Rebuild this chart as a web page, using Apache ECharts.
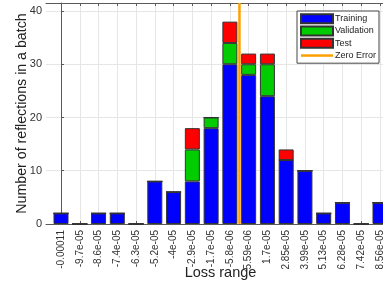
<!DOCTYPE html>
<html>
<head>
<meta charset="utf-8">
<script src="https://cdn.jsdelivr.net/npm/echarts@6/dist/echarts.min.js"></script>
<style>html,body{margin:0;padding:0;background:#fff;}#c{width:383px;height:286px;}</style>
</head>
<body>
<div id="c"></div>
<script>
const categories = ['-0.00011','-9.7e-05','-8.6e-05','-7.4e-05','-6.3e-05','-5.2e-05','-4e-05','-2.9e-05','-1.7e-05','-5.8e-06','5.59e-06','1.7e-05','2.85e-05','3.99e-05','5.13e-05','6.28e-05','7.42e-05','8.56e-05'];
const training   = [2,0,2,2,0,8,6,8,18,30,28,24,12,10,2,4,0,4];
const validation = [0,0,0,0,0,0,0,6,2,4,2,6,0,0,0,0,0,0];
const test       = [0,0,0,0,0,0,0,4,0,4,2,2,2,0,0,0,0,0];
const zeroErrorPos = 9.51; // zero lies between -5.8e-06 and 5.59e-06
const yTicks = [0,10,20,30,40];

const idx = categories.map((c,i)=>i);
const font = 'Liberation Sans, Arial, Helvetica, sans-serif';
const axisCol = '#5a5a5a';

// frame grid (value axes) spans -0.8 .. 17.8 category units
const FL = 46, FW = 349, FT = 3, FH = 221;
const step = FW / 18.6;
const YMAX = 41.5;

const chart = echarts.init(document.getElementById('c'), null, {renderer:'canvas'});
const barStyle = (color) => ({color: color, borderColor: '#333', borderWidth: 1});
chart.setOption({
  animation: false,
  textStyle: {fontFamily: font},
  grid: [
    {left: FL, top: FT, width: FW, height: FH, containLabel: false, outerBoundsMode: 'none'},
    {left: FL + 0.3 * step, top: FT, width: 18 * step, height: FH, containLabel: false, outerBoundsMode: 'none'}
  ],
  legend: {
    orient: 'vertical', left: 297, top: 11,
    padding: [1.5, 3, 1.5, 3], itemGap: 0,
    itemWidth: 32, itemHeight: 9,
    borderColor: '#444', borderWidth: 1, backgroundColor: '#fff',
    textStyle: {fontSize: 9, lineHeight: 12.3, color: '#222', fontFamily: font, padding: [0,0,0,-3]},
    data: [
      {name: 'Training', icon: 'rect'},
      {name: 'Validation', icon: 'rect'},
      {name: 'Test', icon: 'rect'},
      {name: 'Zero Error', icon: 'path://M0,0 M0,9 M0,3.25 L32,3.25 L32,5.75 L0,5.75 Z',
       itemStyle: {color: '#ffa000', borderWidth: 0}}
    ]
  },
  xAxis: [{
    gridIndex: 0, type: 'value', min: -0.8, max: 17.8, position: 'bottom',
    axisLine: {show: true, onZero: false, lineStyle: {color: axisCol, width: 1}},
    axisTick: {show: true, inside: true, length: 3, customValues: idx, lineStyle: {color: axisCol}},
    axisLabel: {show: true, rotate: 90, fontSize: 10, margin: 6, color: '#333', customValues: idx,
      formatter: v => categories[Math.round(v)]},
    splitLine: {show: true, lineStyle: {color: '#e6e6e6', width: 1}},
    name: 'Loss range', nameLocation: 'middle', nameGap: 41, nameMoveOverlap: false,
    nameTextStyle: {fontSize: 14.5, color: '#222'}
  }, {
    gridIndex: 0, type: 'value', min: -0.8, max: 17.8, position: 'top',
    axisLine: {show: true, onZero: false, lineStyle: {color: axisCol, width: 1}},
    axisTick: {show: true, inside: true, length: 3, customValues: idx, lineStyle: {color: axisCol}},
    axisLabel: {show: false},
    splitLine: {show: false}
  }, {
    gridIndex: 1, type: 'category', data: categories, boundaryGap: true,
    show: false
  }],
  yAxis: [{
    gridIndex: 0, type: 'value', min: 0, max: YMAX,
    axisLine: {show: true, lineStyle: {color: axisCol, width: 1}},
    axisTick: {show: true, inside: true, length: 3, customValues: yTicks, lineStyle: {color: axisCol}},
    axisLabel: {fontSize: 11, margin: 4, color: '#333', customValues: yTicks},
    splitLine: {show: true, lineStyle: {color: '#e6e6e6', width: 1}},
    name: 'Number of reflections in a batch', nameLocation: 'middle', nameGap: 17, nameMoveOverlap: false,
    nameTextStyle: {fontSize: 14.2, color: '#222'}
  }, {
    gridIndex: 1, type: 'value', min: 0, max: YMAX, show: false
  }],
  series: [
    {name: 'Training', type: 'bar', stack: 's', xAxisIndex: 2, yAxisIndex: 1, barWidth: 15, data: training, itemStyle: barStyle('#0000ff')},
    {name: 'Validation', type: 'bar', stack: 's', xAxisIndex: 2, yAxisIndex: 1, barWidth: 15, data: validation, itemStyle: barStyle('#00cc00')},
    {name: 'Test', type: 'bar', stack: 's', xAxisIndex: 2, yAxisIndex: 1, barWidth: 15, data: test, itemStyle: barStyle('#ff0000')},
    {name: 'Zero Error', type: 'line', xAxisIndex: 0, yAxisIndex: 0, showSymbol: false, symbol: 'none', z: 5,
     data: [[zeroErrorPos, 0], [zeroErrorPos, YMAX]],
     lineStyle: {color: '#ffa000', width: 2.5}, itemStyle: {color: '#ffa000'}}
  ]
});
</script>
</body>
</html>
